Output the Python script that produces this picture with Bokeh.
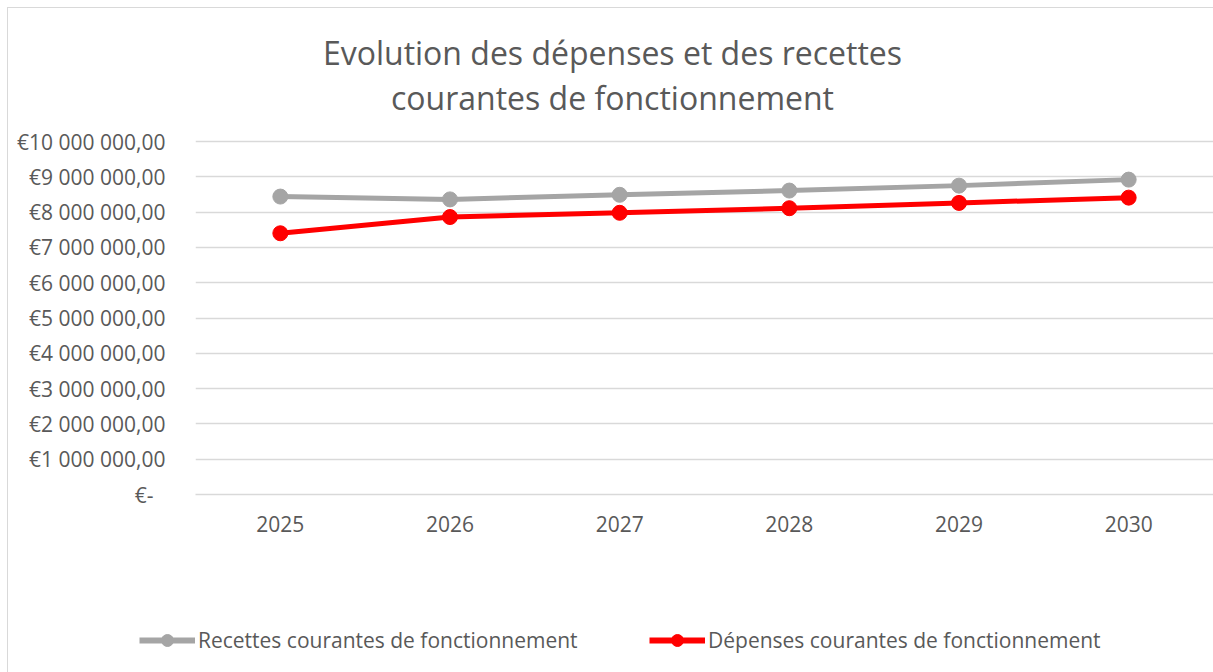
from bokeh.plotting import figure
from bokeh.layouts import column
from bokeh.models import (ColumnDataSource, Legend, LegendItem, Label,
                          FixedTicker, CustomJSTickFormatter, Range1d, FactorRange)
from bokeh.embed import file_html
from bokeh.resources import INLINE

# ---- data ----
years = ["2025", "2026", "2027", "2028", "2029", "2030"]
recettes = [8440000, 8360000, 8490000, 8610000, 8750000, 8920000]
depenses = [7400000, 7860000, 7980000, 8110000, 8260000, 8410000]
y_ticks = [0, 1000000, 2000000, 3000000, 4000000, 5000000,
           6000000, 7000000, 8000000, 9000000, 10000000]
title_lines = ["Evolution des dépenses et des recettes", "courantes de fonctionnement"]
series_names = ["Recettes courantes de fonctionnement", "Dépenses courantes de fonctionnement"]

FONT = "Open Sans"
TXT = "#595959"
GRID = "#d9d9d9"
GREY = "#a5a5a5"
RED = "#ff0000"

src = ColumnDataSource(dict(year=years, recettes=recettes, depenses=depenses))

# ---- layout constants (pixels) ----
W, H1, H2 = 1205, 600, 64
FRAME_LEFT, FRAME_BOTTOM, GRID_TOP = 187, 486, 133
y_max = max(y_ticks)
y_end = y_max * FRAME_BOTTOM / (FRAME_BOTTOM - GRID_TOP)  # headroom that holds the title

# ---- main chart ----
p = figure(width=W, height=H1, x_range=FactorRange(*years, range_padding=0),
           y_range=Range1d(0, y_end), output_backend="svg", toolbar_location=None,
           min_border_left=FRAME_LEFT, min_border_right=0, min_border_top=0,
           min_border_bottom=H1 - FRAME_BOTTOM, title=None)
p.frame_align = False
p.outline_line_color = None
p.background_fill_color = "white"
p.border_fill_color = "white"

p.yaxis.ticker = FixedTicker(ticks=y_ticks)
p.yaxis.formatter = CustomJSTickFormatter(code="""
if (tick == 0) { return "\u20ac-\u2007"; }
var s = Math.round(tick).toString().replace(/\\B(?=(\\d{3})+(?!\\d))/g, " ");
return "\u20ac" + s + ",00";
""")
for ax in (p.xaxis, p.yaxis):
    ax.axis_line_color = None
    ax.major_tick_line_color = None
    ax.minor_tick_line_color = None
    ax.major_tick_out = 0
    ax.major_tick_in = 0
    ax.major_label_text_font = FONT
    ax.major_label_text_color = TXT
p.yaxis.major_label_text_font_size = "21px"
p.yaxis.major_label_standoff = 30
p.xaxis.major_label_text_font_size = "21px"
p.xaxis.major_label_standoff = 21
p.xaxis.axis_line_color = GRID
p.xaxis.axis_line_width = 1.5
p.xgrid.grid_line_color = None
p.ygrid.grid_line_color = GRID
p.ygrid.grid_line_width = 1.5

p.line(x="year", y="recettes", source=src, line_color=GREY, line_width=5)
p.scatter(x="year", y="recettes", source=src, size=15, fill_color=GREY, line_color=GREY)
p.line(x="year", y="depenses", source=src, line_color=RED, line_width=5)
p.scatter(x="year", y="depenses", source=src, size=15, fill_color=RED, line_color=RED)

for txt, yb in zip(title_lines, [44, 89]):
    p.add_layout(Label(x=604, y=yb, x_units="canvas", y_units="canvas", text=txt,
                       text_align="center", text_baseline="alphabetic",
                       text_font=FONT, text_font_size="32px", text_color=TXT))

# ---- legend strip (same series, drawn outside its visible range) ----
q = figure(width=W, height=H2, x_range=FactorRange(*years, range_padding=0),
           y_range=Range1d(0, 1), output_backend="svg", toolbar_location=None,
           title=None, x_axis_location=None, y_axis_location=None, min_border=0)
q.frame_align = False
q.outline_line_color = None
q.grid.visible = False
ql1 = q.line(x="year", y="recettes", source=src, line_color=GREY, line_width=6)
qs1 = q.scatter(x="year", y="recettes", source=src, size=13, fill_color=GREY, line_color=GREY)
ql2 = q.line(x="year", y="depenses", source=src, line_color=RED, line_width=6)
qs2 = q.scatter(x="year", y="depenses", source=src, size=13, fill_color=RED, line_color=RED)

legend = Legend(items=[LegendItem(label=series_names[0], renderers=[ql1, qs1]),
                       LegendItem(label=series_names[1], renderers=[ql2, qs2])],
                orientation="horizontal", location=(131, 17),
                glyph_width=56, glyph_height=30, label_height=30, label_standoff=3,
                label_width=451, spacing=0, padding=0, margin=0,
                border_line_color=None, background_fill_alpha=0,
                label_text_font=FONT, label_text_color=TXT, label_text_font_size="21px")
q.add_layout(legend, "center")

page = column(p, q, spacing=0)
page.styles = {"margin-left": "7px", "margin-top": "7px",
               "border-left": "1px solid #d9d9d9", "border-top": "1px solid #d9d9d9"}

open("out.html", "w").write(file_html(page, INLINE))
